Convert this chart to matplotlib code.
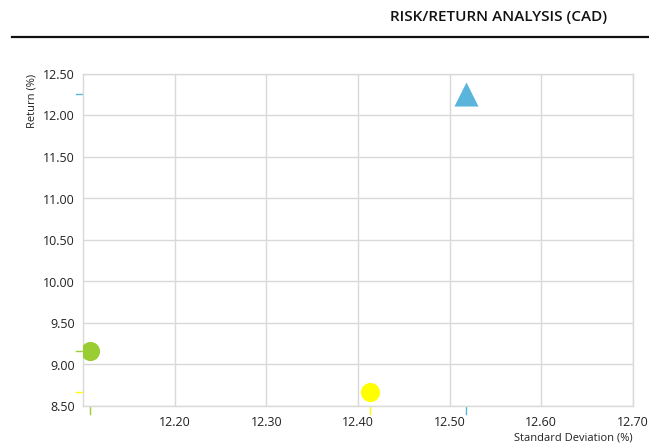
import matplotlib.pyplot as plt

plt.rcParams['font.family'] = ['Open Sans', 'DejaVu Sans']

# Data
std_dev = [12.108, 12.413, 12.518]
returns = [9.16, 8.67, 12.26]
colors = ['#9acd32', '#ffff00', '#5ab4dc']
markers = ['o', 'o', '^']

x_ticks = [12.20, 12.30, 12.40, 12.50, 12.60, 12.70]
y_ticks = [8.50, 9.00, 9.50, 10.00, 10.50, 11.00, 11.50, 12.00, 12.50]

fig = plt.figure(figsize=(6.49, 4.44), dpi=100)
ax = fig.add_axes([83 / 649, 1 - 406 / 444, 550 / 649, 332 / 444])

for x, y, c, m in zip(std_dev, returns, colors, markers):
    ax.scatter(x, y, s=190 if m == 'o' else 300, color=c, marker=m, zorder=3, linewidths=0)
    # rug marks along the axes
    ax.plot([x, x], [-0.004, -0.024], color=c, lw=1, transform=ax.get_xaxis_transform(), clip_on=False)
    ax.plot([-0.013, -0.001], [y, y], color=c, lw=1, transform=ax.get_yaxis_transform(), clip_on=False)

ax.set_xlim(12.10, 12.70)
ax.set_ylim(8.50, 12.50)
ax.set_xticks(x_ticks)
ax.set_xticklabels([f'{t:.2f}' for t in x_ticks])
ax.set_yticks(y_ticks)
ax.set_yticklabels([f'{t:.2f}' for t in y_ticks])
ax.grid(True, color='#d9d9d9', lw=1)
ax.set_axisbelow(True)
ax.tick_params(length=0, labelsize=9, colors='#222222')
ax.tick_params(axis='y', pad=6)
ax.tick_params(axis='x', pad=7)
for s in ax.spines.values():
    s.set_color('#d9d9d9')
    s.set_linewidth(1)

ax.set_xlabel('Standard Deviation (%)', fontsize=8, color='#222222')
ax.xaxis.set_label_coords(1.0, -0.08)
ax.xaxis.label.set_horizontalalignment('right')
ax.set_ylabel('Return (%)', fontsize=8, color='#222222')
ax.yaxis.set_label_coords(-0.082, 1.0)
ax.yaxis.label.set_verticalalignment('bottom')
ax.yaxis.label.set_horizontalalignment('right')

fig.text(607 / 649, 1 - 17 / 444, 'RISK/RETURN ANALYSIS (CAD)', ha='right', va='center',
         fontsize=11, fontweight='semibold', color='#111111')
fig.add_artist(plt.Line2D([12 / 649, 1.0], [1 - 37 / 444, 1 - 37 / 444], color='#111111', lw=1.6))

fig.savefig('out.png', dpi=100)
